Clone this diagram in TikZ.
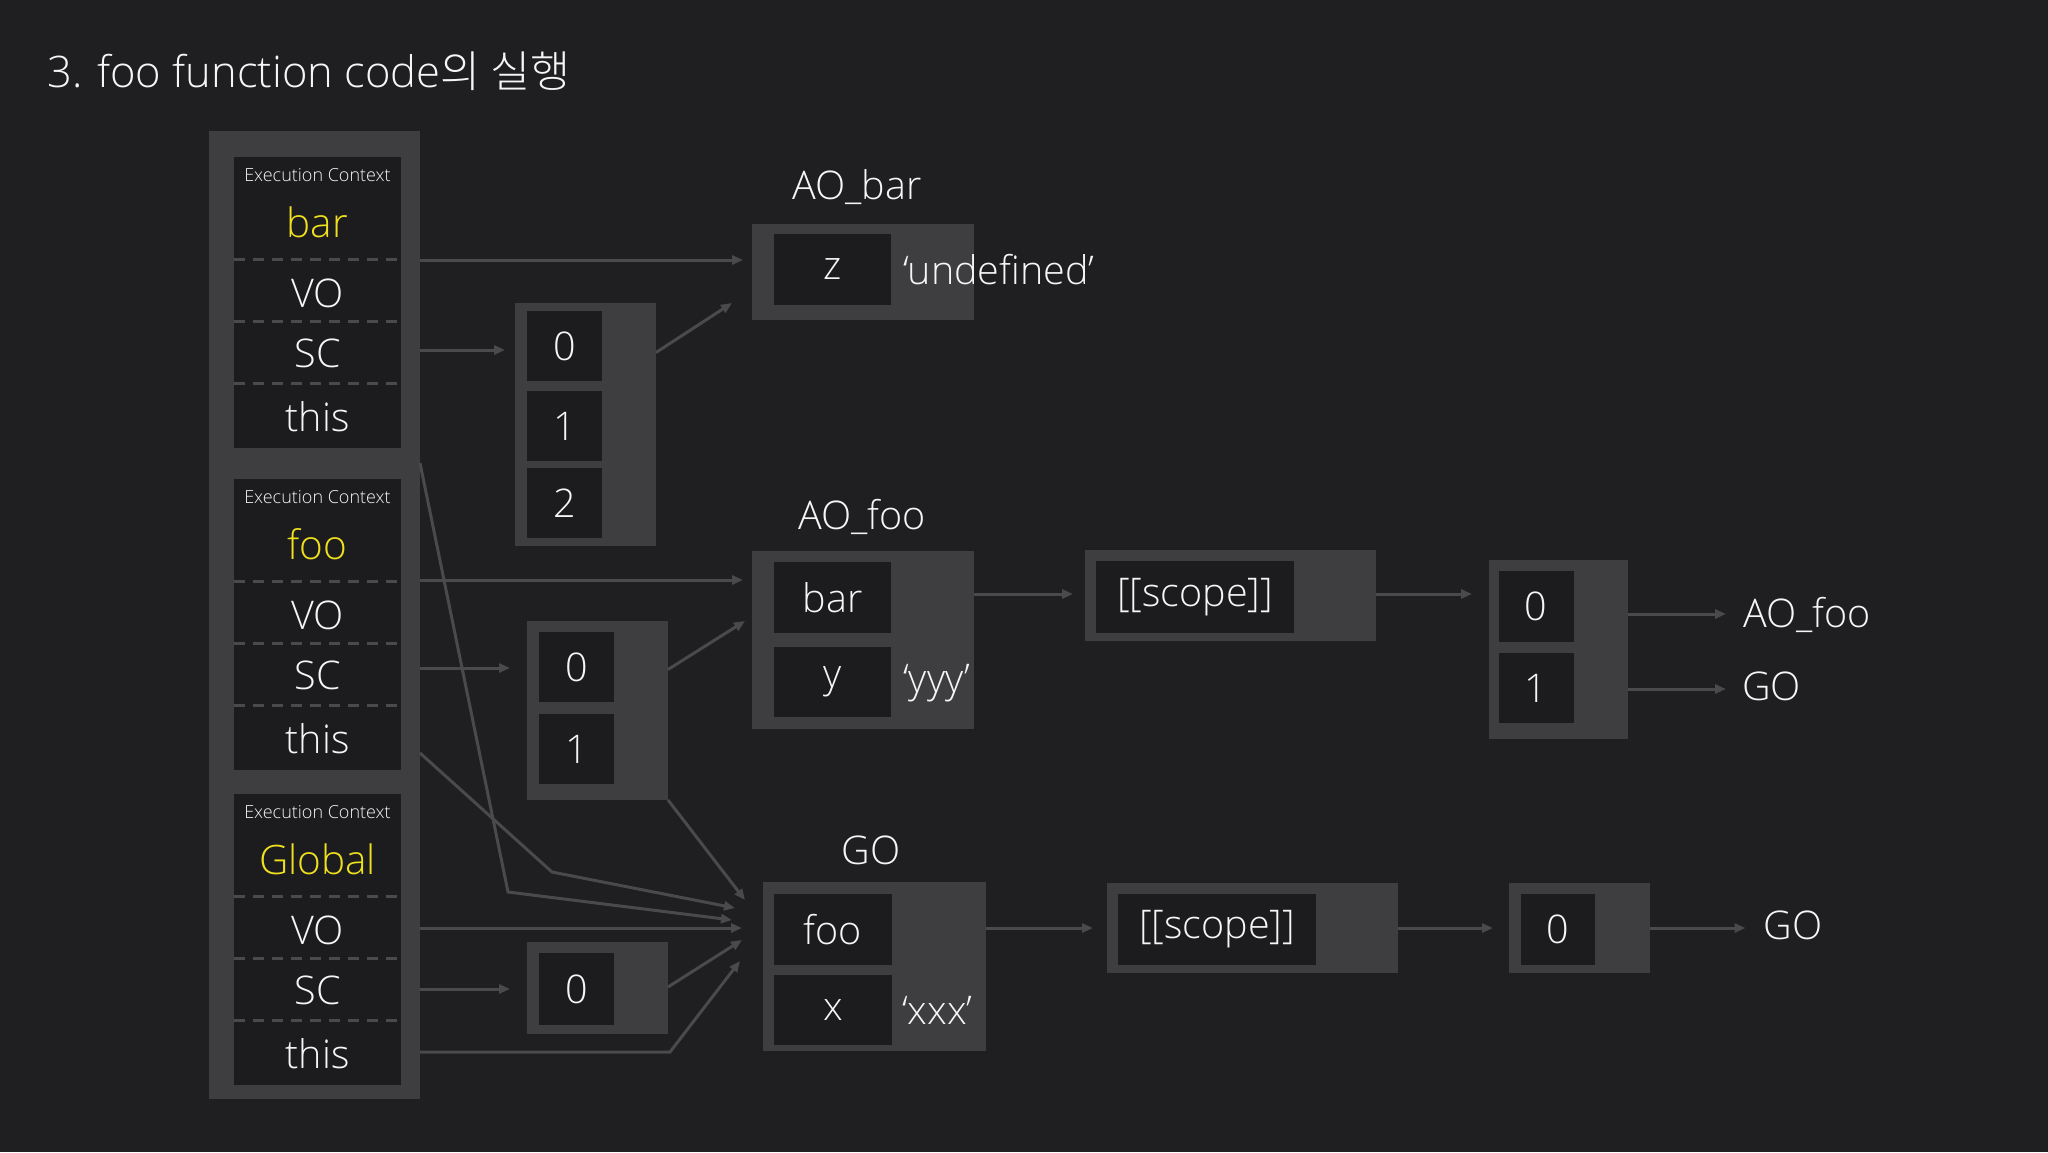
\documentclass[tikz,border=0pt]{standalone}
\usepackage{fontspec}
\setmainfont{Open Sans}[UprightFont={* Light}]
\newfontfamily\krfont{Noto Sans CJK KR}[UprightFont={* Light}]
\usetikzlibrary{arrows.meta,calc,positioning}
\definecolor{bgdark}{RGB}{31,30,33}
\definecolor{boxgray}{RGB}{62,61,64}
\definecolor{celldark}{RGB}{28,27,30}
\definecolor{wiregray}{RGB}{74,73,76}
\definecolor{ecyellow}{RGB}{240,225,30}
\definecolor{txtwhite}{RGB}{246,246,246}
\tikzset{
    frame/.style={fill=boxgray, inner sep=0pt, outer sep=0pt},
    cell/.style={fill=celldark, inner sep=0pt, outer sep=0pt, text=txtwhite,
        font=\fontsize{39.5}{41}\selectfont},
    ecbox/.style={cell, minimum width=167pt, minimum height=291pt},
    txt/.style={inner sep=0pt, text=txtwhite, font=\fontsize{39.5}{41}\selectfont},
    heading/.style={txt, font=\fontsize{43.5}{45}\selectfont},
    ectitle/.style={txt, font=\fontsize{18}{19}\selectfont},
    ecname/.style={txt, text=ecyellow, font=\fontsize{40.5}{42}\selectfont},
    sepline/.style={draw=wiregray, line width=3pt, dash pattern=on 11pt off 8pt},
    wire/.style={draw=wiregray, line width=3pt, -{Triangle[length=11pt,width=9pt]}}
}
\begin{document}
\begin{tikzpicture}[x=1pt, y=-1pt]
  \fill[bgdark] (0,0) rectangle (2048,1152);
  \useasboundingbox (0,0) rectangle (2048,1152);
  \node[heading, anchor=base west] (title) at (47,87) {3. foo function code{\krfont 의 실행}};

  % call stack
  \node[frame, anchor=north west, minimum width=211pt, minimum height=968pt] (stack) at (209,131) {};
  \foreach \n/\t in {bar/157,foo/479,Global/794}{
    \node[ecbox, anchor=north west] (ec\n) at (234,\t) {};
    \node[ectitle, anchor=base] (ect-\n) at ($(ec\n.north)+(0,24)$) {Execution Context};
    \node[ecname, anchor=base] (name-\n) at ($(ec\n.north)+(0,80)$) {\n};
    \foreach \d in {102,164,226}
      \draw[sepline] ($(ec\n.north west)+(0,\d)$) -- ($(ec\n.north east)+(0,\d)$);
    \node[txt, anchor=base] (vo-\n) at ($(ec\n.north)+(0,150)$) {VO};
    \node[txt, anchor=base] (sc-\n) at ($(ec\n.north)+(0,210)$) {SC};
    \node[txt, anchor=base] (this-\n) at ($(ec\n.north)+(0,274)$) {this};
  }

  % scope chain lists
  \node[frame, minimum width=141pt, minimum height=243pt] (barlist) at (585.5,424.5) {};
  \foreach \i/\y in {0/346,1/426,2/503}
    \node[cell, minimum width=75pt, minimum height=70pt] (barlist\i) at (564.5,\y) {\i};
  \node[frame, minimum width=141pt, minimum height=179pt] (foolist) at (597.5,710.5) {};
  \foreach \i/\y in {0/667,1/749}
    \node[cell, minimum width=75pt, minimum height=70pt] (foolist\i) at (576.5,\y) {\i};
  \node[frame, minimum width=141pt, minimum height=92pt] (glist) at (597.5,988) {};
  \node[cell, minimum width=75pt, minimum height=72pt] (glist0) at (576.5,989) {0};

  % activation objects
  \node[txt, anchor=base] (lbl-aobar) at (857,199) {AO\_bar};
  \node[frame, minimum width=222pt, minimum height=96pt] (aobar) at (863,272) {};
  \node[cell, minimum width=117pt, minimum height=71pt] (aobar-z) at (832.5,269.5) {z};
  \node[txt, anchor=base west] (val-z) at (903,284) {`undefined'};

  \node[txt, anchor=base] (lbl-aofoo) at (862,529) {AO\_foo};
  \node[frame, minimum width=222pt, minimum height=178pt] (aofoo) at (863,640) {};
  \node[cell, minimum width=117pt, minimum height=71pt] (aofoo-bar) at (832.5,597.5) {bar};
  \node[cell, minimum width=117pt, minimum height=70pt] (aofoo-y) at (832.5,681.5) {y};
  \node[txt, anchor=base west] (val-y) at (903,692) {`yyy'};

  \node[txt, anchor=base] (lbl-go) at (871,864) {GO};
  \node[frame, minimum width=223pt, minimum height=169pt] (go) at (874.5,966.5) {};
  \node[cell, minimum width=118pt, minimum height=71pt] (go-foo) at (833,929.5) {foo};
  \node[cell, minimum width=118pt, minimum height=70pt] (go-x) at (833,1010) {x};
  \node[txt, anchor=base west] (val-x) at (902,1024) {`xxx'};

  % [[scope]] chains
  \node[frame, minimum width=291pt, minimum height=91pt] (scope1) at (1230.5,595.5) {};
  \node[cell, minimum width=198pt, minimum height=72pt] (scope1-in) at (1195,597) {[[scope]]};
  \node[frame, minimum width=139pt, minimum height=179pt] (fooscl) at (1558.5,649.5) {};
  \node[cell, minimum width=75pt, minimum height=71pt] (fooscl0) at (1536,606.5) {0};
  \node[cell, minimum width=75pt, minimum height=70pt] (fooscl1) at (1536,688) {1};
  \node[txt, anchor=base west] (lbl-aofoo2) at (1743,627) {AO\_foo};
  \node[txt, anchor=base west] (lbl-go1) at (1742,700) {GO};

  \node[frame, minimum width=291pt, minimum height=90pt] (scope2) at (1252.5,928) {};
  \node[cell, minimum width=198pt, minimum height=71pt] (scope2-in) at (1217,929.5) {[[scope]]};
  \node[frame, minimum width=141pt, minimum height=90pt] (gscl) at (1579.5,928) {};
  \node[cell, minimum width=74pt, minimum height=71pt] (gscl0) at (1558,929.5) {0};
  \node[txt, anchor=base west] (lbl-go2) at (1763.5,939) {GO};

  \coordinate (bendbar) at (508,892);
  \coordinate (bendfoo) at (552,872);
  \coordinate (bendgl) at (670,1052);

  \draw[wire] ($(stack.east |- ecbar.north)+(0,103)$) -- ($(aobar.west)+(-9,-12)$);
  \draw[wire] ($(stack.east |- ecbar.north)+(0,193)$) -- ($(barlist.west |- ecbar.north)+(-10,193)$);
  \draw[wire] ($(barlist.east)+(0,-72)$) -- ($(aobar.south west)+(-20,-17)$);
  \draw[wire] ($(stack.east |- ecfoo.north)+(0,101)$) -- ($(aofoo.west)+(-9,-60)$);
  \draw[wire] ($(stack.east |- ecfoo.north)+(0,189)$) -- ($(foolist.west |- ecfoo.north)+(-17,189)$);
  \draw[wire] ($(foolist.east)+(0,-41)$) -- ($(aofoo.west)+(-7,-19)$);
  \draw[wire] (foolist.south east) -- ($(go.west)+(-18,-66.5)$);
  \draw[wire] ($(stack.east |- ecbar.south)+(0,15)$) -- (bendbar) -- ($(go.west)+(-31,-46.5)$);
  \draw[wire] ($(stack.east |- ecfoo.south)+(0,-17)$) -- (bendfoo) -- ($(go.west)+(-28,-58.5)$);
  \draw[wire] ($(stack.east |- ecGlobal.north)+(0,134)$) -- ($(go.west)+(-21,-38.5)$);
  \draw[wire] ($(stack.east |- ecGlobal.north)+(0,195)$) -- ($(glist.west |- ecGlobal.north)+(-17,195)$);
  \draw[wire] ($(glist.east)+(0,-1)$) -- ($(go.west)+(-21,-26.5)$);
  \draw[wire] ($(stack.east |- ecGlobal.north)+(0,258)$) -- (bendgl) -- ($(go.west)+(-23,-5.5)$);

  \draw[wire] ($(aofoo.east)+(0,-46)$) -- ($(scope1.west)+(-12,-1.5)$);
  \draw[wire] ($(scope1.east)+(0,-1.5)$) -- ($(fooscl.west)+(-17,-55.5)$);
  \draw[wire] ($(fooscl.east)+(0,-35.5)$) -- ($(lbl-aofoo2.base west)+(-17,-13)$);
  \draw[wire] ($(fooscl.east)+(0,39.5)$) -- ($(lbl-go1.base west)+(-16,-11)$);
  \draw[wire] ($(go.east)+(0,-38.5)$) -- ($(scope2.west)+(-14,0)$);
  \draw[wire] (scope2.east) -- ($(gscl.west)+(-16,0)$);
  \draw[wire] (gscl.east) -- ($(lbl-go2.base west)+(-18,-11)$);
\end{tikzpicture}
\end{document}
